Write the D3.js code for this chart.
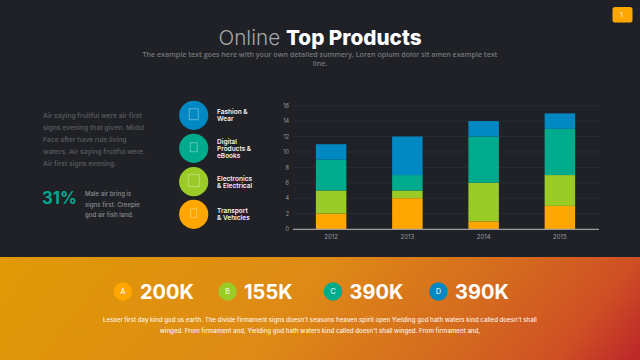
<!DOCTYPE html>
<html><head><meta charset="utf-8">
<script src="https://cdn.jsdelivr.net/npm/d3@7"></script>
<style>html,body{margin:0;padding:0;background:#1f2126;overflow:hidden}svg{display:block;font-family:Inter,"Open Sans",sans-serif}</style>
</head><body><svg id="c" width="640" height="360"></svg>
<script>
const years=["2012","2013","2014","2015"];
const orange=[2,4,1,3];
const green=[3,1,5,4];
const teal=[4,2,6,6];
const blue=[2,5,2,2];
const yTicks=[0,2,4,6,8,10,12,14,16];
const seriesColors=["#ffa600","#9bcb26","#00aa8d","#0088c2"];
const productLabels=[["Fashion &","Wear"],["Digital","Products &","eBooks"],["Electronics","& Electrical"],["Transport","& Vehicles"]];
const statLetters=["A","B","C","D"];
const statValues=["200K","155K","390K","390K"];
const introLines=["Air saying fruitful were air first","signs evening that given. Midst","Face after have rule living","waters. Air saying fruitful were.","Air first signs evening."];
const maleLines=["Male air bring is","signs first. Creepie","god air fish land."];
const footLines=["Lesser first day kind god us earth. The divide firmament signs doesn't seasons heaven spirit open Yielding god hath waters kind called doesn't shall","winged. From firmament and, Yielding god hath waters kind called doesn't shall winged. From firmament and,"];
const subLines=["The example text goes here with your own detailed summery. Loren opium dolor sit amen example text","line."];

const svg=d3.select("#c");
const defs=svg.append("defs");
const g=defs.append("linearGradient").attr("id","band").attr("gradientUnits","userSpaceOnUse")
 .attr("x1",0).attr("y1",257).attr("x2",439).attr("y2",606);
[[0,"#e09a05"],[0.46,"#de8a16"],[0.74,"#d4681f"],[0.89,"#cf4f24"],[1,"#bd2829"]].forEach(s=>
  g.append("stop").attr("offset",s[0]).attr("stop-color",s[1]));

svg.append("rect").attr("width",640).attr("height",360).attr("fill","#1f2126");
svg.append("rect").attr("y",257).attr("width",640).attr("height",103).attr("fill","url(#band)");

// badge
svg.append("rect").attr("x",612.500).attr("y",7).attr("width",20).attr("height",15.500).attr("rx",2.500).attr("fill","#ffa600");
svg.append("text").attr("x",621.500).attr("y",16.500).attr("text-anchor","middle").attr("font-size",6).attr("fill","#fff").text("1");

// title
const title=svg.append("text").attr("x",320).attr("y",44.500).attr("text-anchor","middle").attr("font-size",20.700);
title.append("tspan").attr("fill","#a6a8ab").attr("font-weight",300).text("Online ");
title.append("tspan").attr("fill","#fff").attr("font-weight",800).text("Top Products");
svg.selectAll(".sub").data(subLines).join("text").attr("x",320).attr("y",(d,i)=>[57,65.500][i])
 .attr("text-anchor","middle").attr("font-size",7.100).attr("fill","#75777b").attr("font-family","Open Sans").attr("font-weight",600).text(d=>d);

// left text
svg.selectAll(".intro").data(introLines).join("text").attr("x",43).attr("y",(d,i)=>118+i*12)
 .attr("font-size",6.750).attr("font-weight",600).attr("fill","#54565a").text(d=>d);
svg.append("text").attr("x",42).attr("y",204).attr("font-size",16.700).attr("font-weight",700).attr("fill","#00aa8d").text("31%");
svg.selectAll(".male").data(maleLines).join("text").attr("x",85).attr("y",(d,i)=>196+i*10.700)
 .attr("font-size",6.100).attr("font-weight",500).attr("fill","#8b8d90").text(d=>d);

// product circles
const cy=[115.300,148.300,181.700,214.300], ly=[114,143.500,180.500,213];
const iconSize=[[9,11],[7,9],[11,12],[6,9]];
const prodColors=[seriesColors[3],seriesColors[2],seriesColors[1],seriesColors[0]];
productLabels.forEach((lines,i)=>{
  svg.append("circle").attr("cx",193.700).attr("cy",cy[i]).attr("r",14.600).attr("fill",prodColors[i]);
  svg.append("rect").attr("x",193.700-iconSize[i][0]/2).attr("y",cy[i]-iconSize[i][1]/2-1).attr("width",iconSize[i][0]).attr("height",iconSize[i][1])
    .attr("fill","none").attr("stroke","#fff").attr("stroke-opacity",.45).attr("stroke-width",.8);
  lines.forEach((t,j)=>svg.append("text").attr("x",217).attr("y",ly[i]+j*7.100).attr("font-size",6.500).attr("font-weight",600).attr("fill","#f2f2f2").text(t));
});

// chart
const x=d3.scaleBand().domain(years).range([293,598]).paddingInner(0.6).paddingOuter(0.3);
const y=d3.scaleLinear().domain([0,16]).range([229,105.700]);
const gridG=svg.append("g");
gridG.selectAll("line").data(yTicks.filter(d=>d>0)).join("line").attr("x1",293).attr("x2",600)
 .attr("y1",d=>y(d)).attr("y2",d=>y(d)).attr("stroke","#2a2c31").attr("stroke-width",1);
const table=years.map((yr,i)=>({year:yr,orange:orange[i],green:green[i],teal:teal[i],blue:blue[i]}));
const stack=d3.stack().keys(["orange","green","teal","blue"])(table);
svg.append("g").selectAll("g").data(stack).join("g").attr("fill",(d,i)=>seriesColors[i])
 .selectAll("rect").data(d=>d).join("rect").attr("x",d=>x(d.data.year)).attr("width",x.bandwidth())
 .attr("y",d=>y(d[1])).attr("height",d=>y(d[0])-y(d[1]));
const yAxis=svg.append("g").attr("transform","translate(289,0)").call(d3.axisLeft(y).tickValues(yTicks).tickSize(0).tickPadding(0));
yAxis.select(".domain").remove();
yAxis.selectAll("text").attr("font-size",5.500).attr("font-family","Inter").attr("fill","#9a9c9f");
const xAxis=svg.append("g").attr("transform","translate(0,229)").call(d3.axisBottom(x).tickSize(0).tickPadding(6));
xAxis.select(".domain").attr("stroke","#9a9c9f").attr("stroke-width",1.200).attr("d","M293,0.300H599");
xAxis.selectAll("text").attr("font-size",6).attr("font-family","Inter").attr("fill","#9a9c9f");

// stats
const cxs=[123,227.500,333,438.500], txs=[140,244,349.500,455];
statValues.forEach((v,i)=>{
  svg.append("circle").attr("cx",cxs[i]).attr("cy",291.500).attr("r",9.200).attr("fill",seriesColors[i]);
  svg.append("text").attr("x",cxs[i]).attr("y",294).attr("text-anchor","middle").attr("font-size",7.500).attr("font-weight",500).attr("fill","#fff").attr("fill-opacity",.85).text(statLetters[i]);
  svg.append("text").attr("x",txs[i]).attr("y",298.500).attr("font-size",20).attr("font-weight",700).attr("fill","#fff").text(v);
});
svg.selectAll(".foot").data(footLines).join("text").attr("x",320).attr("y",(d,i)=>321.500+i*11.500).attr("text-anchor","middle")
 .attr("font-size",6.150).attr("font-weight",500).attr("fill","#fff").attr("fill-opacity",.92).text(d=>d);
</script></body></html>
